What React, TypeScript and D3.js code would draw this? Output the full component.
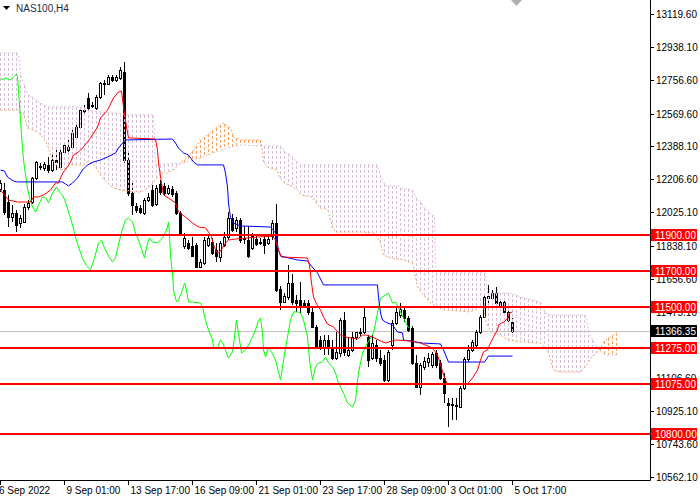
import React from "react";
import * as d3 from "d3";

// ---- candle data (NAS100, H4) ----
const barOpen = [12153,12147,12081,11998,12020,11965,11971,12054,12081,12214,12280,12269,12286,12258,12313,12275,12357,12368,12385,12440,12495,12589,12656,12617,12600,12661,12739,12733,12772,12755,12766,12799,12313,12131,12059,12048,12020,12092,12147,12070,12181,12170,12131,12153,12131,12020,11838,11855,11838,11844,11722,11744,11844,11860,11816,11777,11844,11888,11993,11938,11982,11882,11871,11827,11877,11855,11877,11855,11893,11965,11601,11529,11556,11634,11540,11540,11523,11523,11474,11391,11319,11275,11319,11280,11219,11247,11429,11236,11264,11335,11363,11363,11335,11219,11291,11219,11208,11098,11291,11413,11457,11485,11440,11385,11192,11059,11170,11197,11181,11247,11192,11109,10971,10960,10954,10949,11054,11214,11264,11291,11363,11446,11551,11551,11578,11529,11529,11474,11418];
const barHigh = [12203,12186,12120,12065,12037,12009,12070,12092,12219,12308,12297,12302,12330,12341,12379,12385,12407,12424,12479,12518,12600,12617,12683,12634,12672,12744,12755,12783,12783,12783,12827,12854,12368,12203,12076,12065,12103,12131,12175,12175,12203,12186,12175,12170,12142,12031,11910,11871,11888,11855,11766,11888,11899,11882,11855,11866,11915,12026,12015,11998,11993,11949,11949,11910,11893,11882,11899,11893,11982,12070,11617,11578,11733,11683,11567,11639,11540,11540,11496,11402,11341,11346,11346,11319,11363,11440,11474,11335,11363,11363,11385,11501,11346,11346,11319,11264,11236,11264,11429,11496,11523,11501,11452,11396,11236,11192,11225,11247,11253,11264,11208,11137,10999,10999,10999,11065,11225,11291,11319,11374,11457,11567,11623,11595,11612,11545,11540,11496,11440];
const barLow = [12136,12009,11943,11971,11915,11938,11965,12037,12070,12203,12258,12252,12241,12247,12258,12258,12341,12352,12379,12435,12484,12573,12589,12600,12589,12650,12672,12727,12744,12744,12755,12297,12114,12009,12020,12015,12009,12081,12054,12059,12120,12114,12120,12109,12009,11893,11822,11816,11777,11717,11717,11733,11833,11788,11750,11750,11833,11871,11915,11915,11855,11849,11772,11816,11838,11844,11794,11844,11871,11584,11485,11523,11540,11512,11474,11468,11496,11457,11385,11275,11264,11236,11236,11208,11208,11225,11230,11225,11253,11319,11341,11352,11170,11208,11197,11175,11087,11087,11264,11402,11440,11418,11363,11181,11054,11015,11153,11170,11164,11164,11098,10971,10838,10877,10877,10943,11043,11197,11253,11280,11352,11440,11523,11545,11518,11496,11468,11418,11358];
const barClose = [12186,12026,11998,12020,11954,11993,12054,12076,12214,12302,12275,12291,12258,12313,12302,12357,12396,12385,12462,12495,12589,12584,12600,12611,12661,12739,12733,12772,12755,12772,12810,12313,12131,12065,12037,12026,12092,12109,12065,12158,12136,12131,12158,12125,12020,11910,11882,11827,11783,11722,11750,11871,11882,11800,11783,11855,11888,11993,11926,11982,11871,11877,11783,11893,11849,11860,11844,11877,11965,11595,11529,11562,11634,11529,11523,11512,11512,11474,11391,11280,11280,11319,11275,11219,11253,11429,11253,11264,11335,11363,11358,11446,11208,11302,11219,11192,11098,11253,11413,11474,11490,11440,11374,11192,11059,11181,11203,11219,11241,11181,11109,11026,10960,10965,10960,11054,11214,11264,11308,11363,11446,11556,11562,11578,11523,11501,11474,11429,11366.35];

const lastPrice = 11366.35;

// ---- Ichimoku lines, read as [bar, price] ----
const tenkan: [number, number][] = [[0,12147],[2,12092],[4.25,12081],[7.5,12081],[8.25,12109],[9.5,12109],[10.75,12120],[12.5,12147],[13.75,12186],[14.5,12186],[15,12214],[15.75,12247],[16.75,12275],[17.5,12302],[18.25,12341],[19.5,12357],[20.75,12385],[22.5,12435],[24.25,12495],[25,12545],[26.75,12589],[28.25,12656],[29.5,12689],[30.25,12694],[30.75,12606],[31.5,12495],[32,12435],[38.75,12429],[39.25,12368],[39.5,12297],[40.25,12186],[40.75,12120],[42,12103],[43.75,12076],[44.5,12026],[46.25,11998],[48,11965],[49.5,11943],[51.25,11938],[52,11915],[52.75,11888],[53.25,11844],[54,11805],[54.5,11800],[55.5,11827],[56.25,11855],[57,11871],[58.75,11877],[61.25,11882],[64.5,11888],[68,11893],[68.75,11871],[69.5,11816],[70.25,11777],[76.75,11772],[77.25,11733],[77.75,11634],[78.25,11556],[79,11518],[80,11485],[80.75,11446],[81.75,11407],[83.25,11391],[85,11346],[86.25,11335],[89.25,11324],[90.5,11346],[91.5,11346],[93,11335],[94.5,11319],[96.25,11302],[98.75,11319],[102.5,11313],[105,11302],[106.75,11286],[108,11275],[109.25,11236],[110.25,11164],[111,11109],[111.75,11076],[116.75,11076],[118,11109],[119.25,11153],[120,11208],[120.75,11253],[121.75,11264],[122.5,11302],[123.25,11335],[124.25,11374],[124.5,11402],[125.25,11413],[126,11418],[126.75,11440],[127.25,11468],[128,11474]];

const kijun: [number, number][] = [[0,12258],[1,12252],[1.75,12219],[3.25,12197],[4.25,12192],[15.5,12192],[16.25,12181],[17,12170],[18,12186],[19.25,12214],[20.5,12258],[21.75,12286],[23.25,12302],[25,12313],[26.75,12330],[28.75,12352],[29.5,12379],[30.5,12407],[31.25,12424],[43,12429],[43.75,12407],[44.5,12379],[45.75,12352],[47,12341],[48.25,12302],[49.25,12286],[55.75,12286],[56.25,12241],[56.75,12164],[57,12076],[57.5,11993],[58.25,11965],[60,11949],[67.5,11943],[68.75,11910],[69.5,11816],[70,11783],[74.25,11761],[76.75,11755],[77.5,11733],[79.25,11689],[80.75,11623],[94.25,11623],[94.5,11556],[95,11468],[95.5,11429],[96.25,11418],[98,11402],[99.25,11363],[100.5,11358],[100.75,11319],[105.5,11302],[110,11297],[110.75,11264],[112,11197],[121,11197],[122,11230],[128,11230]];

const chikou: [number, number][] = [[0,12755],[1.25,12766],[2.5,12755],[3.25,12772],[4,12788],[4.25,12777],[4.75,12617],[5.25,12451],[5.75,12313],[6.25,12230],[6.75,12158],[7.25,12103],[8,12054],[8.75,12026],[9.5,12065],[10.5,12109],[11.25,12103],[12,12076],[13,12131],[14,12164],[14.75,12136],[15.5,12120],[16.25,12081],[17,12026],[18,11954],[18.75,11888],[19.5,11833],[20.5,11772],[21.5,11728],[22.5,11706],[23.5,11772],[24.5,11855],[25.25,11871],[26,11827],[27,11783],[28,11750],[28.75,11772],[29.5,11844],[30.25,11915],[31.25,11982],[32,11993],[33,11971],[33.75,11910],[34.5,11871],[35.5,11805],[36,11772],[36.75,11855],[37.25,11882],[38,11860],[39.25,11855],[40.5,11882],[41.25,11915],[41.75,11943],[42,11971],[42.25,11899],[42.5,11788],[43,11689],[43.25,11595],[44,11529],[44.5,11540],[45.5,11595],[46,11634],[46.5,11595],[47,11529],[48,11529],[50,11523],[50.5,11501],[51.25,11429],[52,11374],[53,11319],[53.25,11280],[54.25,11275],[55,11319],[55.75,11291],[57,11219],[58,11253],[58.5,11335],[59,11429],[59.25,11391],[59.75,11319],[60.25,11247],[61.25,11264],[62,11291],[63,11335],[63.75,11374],[64.5,11429],[65,11440],[65.5,11358],[65.75,11264],[66.25,11225],[67,11280],[67.75,11253],[68.75,11208],[70,11098],[70.75,11208],[71.75,11335],[72.5,11429],[73.25,11474],[74.25,11474],[75,11468],[75.75,11429],[76.75,11335],[77.25,11208],[78,11098],[78.75,11170],[79.5,11192],[80.5,11197],[81.25,11225],[82,11192],[83,11170],[83.75,11137],[84.5,11081],[85.75,11026],[86.75,10971],[88,10949],[88.75,10987],[89.5,11137],[90.5,11247],[91.75,11302],[93.25,11358],[94.25,11468],[95,11551],[96.25,11567],[97,11578],[98,11523],[98.75,11529],[99.5,11496],[100.75,11440],[102,11385]];

const spanA: [number, number][] = [[0,12589],[4.25,12589],[4.5,12578],[5.75,12573],[6.75,12490],[8.25,12479],[9.25,12468],[10.5,12440],[11.75,12396],[12.5,12341],[13.75,12286],[15,12258],[16.75,12269],[17.5,12286],[20.75,12286],[21.75,12302],[23,12297],[24.25,12258],[25,12230],[26.75,12186],[28.25,12158],[30,12147],[33.25,12136],[35,12136],[36.75,12158],[38.25,12186],[39.25,12219],[40,12241],[41.75,12241],[43.25,12258],[45,12297],[46.75,12330],[48.25,12368],[50,12424],[51.75,12451],[53.25,12479],[55,12507],[55.75,12518],[57.5,12490],[58.25,12440],[60,12424],[65,12424],[65.5,12368],[65.75,12302],[66.75,12275],[69.25,12258],[69.5,12230],[70.75,12192],[72,12175],[73.25,12164],[74.25,12147],[75,12120],[78,12109],[78.75,12081],[80,12048],[81.25,12042],[82,12026],[82.5,11982],[83,11938],[83.75,11915],[90,11915],[93.25,11910],[94.25,11888],[95,11855],[95.75,11788],[97.5,11772],[100.75,11761],[103,11744],[103.75,11667],[104.25,11612],[105.75,11567],[107.5,11523],[109.25,11501],[110.75,11485],[117.5,11474],[120,11501],[120.75,11507],[121.25,11429],[122.5,11363],[125,11346],[126.75,11319],[130.75,11308],[135,11302],[136.75,11264],[137.5,11208],[138.25,11153],[140,11142],[145,11142],[146.25,11170],[147.5,11219],[149.25,11253],[150,11275],[150.75,11308],[152,11330],[153.25,11346],[154,11358]];

const spanB: [number, number][] = [[0,12904],[4.25,12904],[4.75,12854],[5,12783],[6.25,12711],[7,12672],[8.25,12656],[10,12628],[11.75,12606],[20.75,12606],[21.75,12589],[25,12578],[28.25,12573],[32.5,12562],[38.25,12562],[38.75,12286],[45.75,12297],[50,12324],[53.75,12357],[57.5,12385],[60,12396],[65.5,12390],[70,12390],[70.5,12379],[71.25,12352],[72.5,12341],[73.25,12324],[74.25,12302],[75,12286],[94.25,12286],[94.5,12258],[95.5,12203],[96.25,12170],[99.25,12170],[100,12158],[103,12147],[103.75,12109],[105,12081],[105.75,12054],[107,12026],[108,12009],[108.5,11998],[108.75,11689],[121.25,11689],[121.75,11578],[127.5,11578],[130,11556],[135,11529],[136.25,11468],[137.5,11457],[146.25,11457],[147,11374],[148,11319],[149.25,11275],[150,11253],[151.25,11236],[154,11236]];

// ---- axes / levels ----
const priceTicks = [13119.6,12938.1,12756.6,12569.6,12388.1,12206.6,12025.1,11838.1,11656.6,11475.1,11106.6,10925.1,10743.6,10562.1];
const levels = [11900, 11700, 11500, 11275, 11075, 10800];
const timeBars = [0, 16, 32, 48, 64, 80, 96, 112, 128];
const timeLabels = ["6 Sep 2022","9 Sep 01:00","13 Sep 17:00","16 Sep 09:00","21 Sep 01:00","23 Sep 17:00","28 Sep 09:00","3 Oct 01:00","5 Oct 17:00"];
const symbolTitle = "NAS100,H4";
const cloudLastBar = 154;

const PLOT_R = 650;
const PLOT_B = 480;
const FONT = "'Liberation Sans', Arial, sans-serif";

export default function App() {
  const xs = d3.scaleLinear().domain([0, 162.5]).range([0.5, 650.5]);
  const ys = d3.scaleLinear().domain([10562.1, 13119.6]).range([477, 14]);

  const line = d3.line<[number, number]>().x(d => xs(d[0])).y(d => ys(d[1]));

  const aAt = d3.scaleLinear().domain(spanA.map(d => d[0])).range(spanA.map(d => d[1]));
  const bAt = d3.scaleLinear().domain(spanB.map(d => d[0])).range(spanB.map(d => d[1]));
  const hatchBars = d3.range(0, cloudLastBar + 1);

  const fmt = d3.format(".2f");

  return (
    <div style={{ position: "fixed", left: 0, top: 0, width: 700, height: 500, background: "#fff" }}>
      <svg width={700} height={500} style={{ display: "block" }}>
        <defs>
          <clipPath id="plot">
            <rect x={0} y={0} width={PLOT_R} height={PLOT_B} />
          </clipPath>
        </defs>
        <rect x={0} y={0} width={700} height={500} fill="#fff" />
        <g clipPath="url(#plot)">
          {/* bid line */}
          <line x1={0} x2={PLOT_R} y1={Math.round(ys(lastPrice)) + 0.5} y2={Math.round(ys(lastPrice)) + 0.5} stroke="#C0C0C0" strokeWidth={1} />
          {/* candles */}
          <g shapeRendering="crispEdges">
            {barOpen.map((o, i) => {
              const c = barClose[i];
              const cx = xs(i);
              const yo = Math.round(ys(o));
              const yc = Math.round(ys(c));
              const top = Math.min(yo, yc);
              const bot = Math.max(yo, yc);
              const bull = c >= o;
              return (
                <g key={i}>
                  <line x1={cx} x2={cx} y1={Math.round(ys(barHigh[i]))} y2={Math.round(ys(barLow[i]))} stroke="#000" strokeWidth={1} />
                  {bot - top < 1 ? (
                    <line x1={cx - 1.5} x2={cx + 1.5} y1={top + 0.5} y2={top + 0.5} stroke="#000" strokeWidth={1} />
                  ) : (
                    <rect x={cx - 1} y={top + 0.5} width={2} height={bot - top} fill={bull ? "#fff" : "#000"} stroke="#000" strokeWidth={1} />
                  )}
                </g>
              );
            })}
          </g>
          {/* cloud hatch */}
          <g shapeRendering="crispEdges">
            {hatchBars.map(i => {
              const a = aAt(i);
              const b = bAt(i);
              return (
                <line key={i} x1={xs(i)} x2={xs(i)} y1={ys(Math.max(a, b))} y2={ys(Math.min(a, b))}
                  stroke={a >= b ? "#F4A460" : "#D8BFD8"} strokeWidth={1} strokeDasharray="3,2" />
              );
            })}
          </g>
          <path d={line(spanB) || ""} fill="none" stroke="#D8BFD8" strokeWidth={1} strokeDasharray="2,2" />
          <path d={line(spanA) || ""} fill="none" stroke="#F4A460" strokeWidth={1} strokeDasharray="2,2" />
          {/* lines */}
          <path d={line(chikou) || ""} fill="none" stroke="#00FF00" strokeWidth={1} />
          <path d={line(kijun) || ""} fill="none" stroke="#0000FF" strokeWidth={1} />
          <path d={line(tenkan) || ""} fill="none" stroke="#FF0000" strokeWidth={1} />
          {/* horizontal levels */}
          {levels.map(v => (
            <line key={v} x1={0} x2={PLOT_R} y1={Math.round(ys(v))} y2={Math.round(ys(v))} stroke="#FF0000" strokeWidth={2} />
          ))}
        </g>

        {/* title */}
        <path d="M3,6 L10,6 L6.5,10 Z" fill="#000" />
        <text x={16} y={8} dominantBaseline="central" fontFamily={FONT} fontSize={10} fill="#1c2b48">{symbolTitle}</text>
        <path d="M511,0 L522,0 L516.5,6 Z" fill="#B0B0B0" />

        {/* axes frame */}
        <line x1={PLOT_R + 0.5} x2={PLOT_R + 0.5} y1={0} y2={PLOT_B + 0.5} stroke="#000" />
        <line x1={0} x2={PLOT_R + 0.5} y1={PLOT_B + 0.5} y2={PLOT_B + 0.5} stroke="#000" />

        {/* price ticks */}
        {priceTicks.map(v => {
          const y = Math.round(ys(v)) + 0.5;
          return (
            <g key={v}>
              <line x1={PLOT_R} x2={PLOT_R + 4} y1={y} y2={y} stroke="#000" />
              <text x={656} y={y} dominantBaseline="central" fontFamily={FONT} fontSize={10} fill="#000">{fmt(v)}</text>
            </g>
          );
        })}
        {/* level labels */}
        {levels.map(v => {
          const y = Math.round(ys(v));
          return (
            <g key={"l" + v}>
              <rect x={651} y={y - 6} width={46} height={12} fill="#FF0000" />
              <text x={655} y={y} dominantBaseline="central" fontFamily={FONT} fontSize={10} fill="#fff">{fmt(v)}</text>
            </g>
          );
        })}
        {/* current price */}
        <g>
          <rect x={651} y={Math.round(ys(lastPrice)) - 6} width={46} height={12} fill="#000" />
          <text x={655} y={Math.round(ys(lastPrice))} dominantBaseline="central" fontFamily={FONT} fontSize={10} fill="#fff">{fmt(lastPrice)}</text>
        </g>

        {/* time axis */}
        {timeBars.map((b, k) => {
          const x = Math.round(xs(b) - 0.5) + 0.5;
          return (
            <g key={b}>
              <line x1={x} x2={x} y1={PLOT_B} y2={PLOT_B + 5} stroke="#000" />
              <text x={k === 0 ? -1 : x + 2} y={490} dominantBaseline="central" fontFamily={FONT} fontSize={10} fill="#000">{timeLabels[k]}</text>
            </g>
          );
        })}
      </svg>
    </div>
  );
}
